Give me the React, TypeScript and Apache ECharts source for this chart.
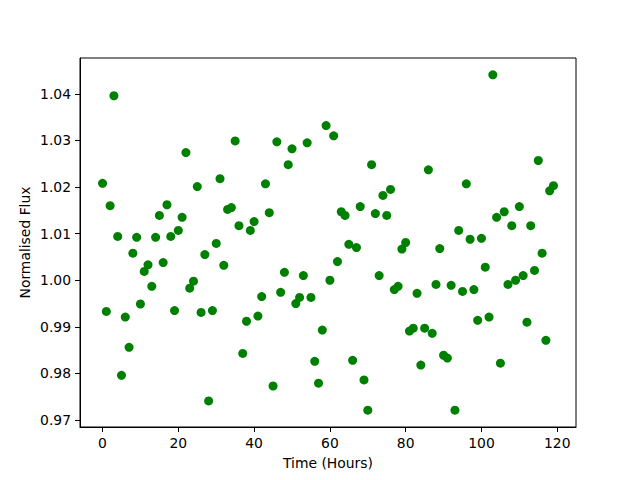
import React, { useEffect, useRef } from "react";
import * as echarts from "echarts";

const hours: number[] = Array.from({ length: 120 }, (_, i) => i);
const flux: number[] = [
  1.0208, 0.9933, 1.0160, 1.0396, 1.0094, 0.9796, 0.9921, 0.9856, 1.0058, 1.0092,
  0.9949, 1.0019, 1.0033, 0.9987, 1.0092, 1.0139, 1.0038, 1.0162, 1.0094, 0.9935,
  1.0107, 1.0135, 1.0274, 0.9983, 0.9998, 1.0201, 0.9931, 1.0055, 0.9741, 0.9935,
  1.0079, 1.0218, 1.0032, 1.0152, 1.0156, 1.0299, 1.0117, 0.9843, 0.9912, 1.0107,
  1.0126, 0.9923, 0.9965, 1.0207, 1.0145, 0.9773, 1.0297, 0.9974, 1.0017, 1.0248,
  1.0282, 0.9950, 0.9963, 1.0010, 1.0295, 0.9963, 0.9826, 0.9779, 0.9893, 1.0332,
  1.0000, 1.0310, 1.0040, 1.0147, 1.0139, 1.0077, 0.9828, 1.0070, 1.0158, 0.9786,
  0.9721, 1.0248, 1.0143, 1.0010, 1.0182, 1.0139, 1.0195, 0.9980, 0.9987, 1.0067,
  1.0081, 0.9891, 0.9897, 0.9972, 0.9818, 0.9897, 1.0237, 0.9886, 0.9991, 1.0068,
  0.9839, 0.9833, 0.9989, 0.9721, 1.0107, 0.9976, 1.0207, 1.0088, 0.9980, 0.9914,
  1.0090, 1.0028, 0.9921, 1.0441, 1.0135, 0.9822, 1.0147, 0.9991, 1.0117, 1.0000,
  1.0158, 1.0010, 0.9910, 1.0117, 1.0021, 1.0257, 1.0058, 0.9871, 1.0192, 1.0203,
];
const xTicks: number[] = [0, 20, 40, 60, 80, 100, 120];
const yTicks: number[] = [0.97, 0.98, 0.99, 1.0, 1.01, 1.02, 1.03, 1.04];

const FONT = "DejaVu Sans";

export default function App() {
  const ref = useRef<HTMLDivElement>(null);
  useEffect(() => {
    if (!ref.current) return;
    const chart = echarts.init(ref.current, undefined, { renderer: "svg" });
    const data = hours.map((h, i) => [h, flux[i]]);
    chart.setOption({
      animation: false,
      backgroundColor: "#ffffff",
      grid: {
        left: 80,
        top: 58,
        width: 496,
        height: 369,
        show: true,
        borderColor: "#000",
        borderWidth: 1,
        backgroundColor: "transparent",
      },
      xAxis: {
        type: "value",
        min: -5.95,
        max: 124.95,
        name: "Time (Hours)",
        nameLocation: "middle",
        nameGap: 29,
        nameMoveOverlap: false,
        nameTextStyle: { fontFamily: FONT, fontSize: 13.9, color: "#000" },
        axisLine: { show: true, onZero: false, lineStyle: { color: "#000", width: 1 } },
        axisTick: { show: true, inside: false, length: 5, customValues: xTicks, lineStyle: { color: "#000" } },
        axisLabel: {
          margin: 9,
          customValues: xTicks,
          fontFamily: FONT,
          fontSize: 13.9,
          color: "#000",
          formatter: (v: number) => String(Math.round(v)),
        },
        splitLine: { show: false },
      },
      yAxis: {
        type: "value",
        min: 0.9685,
        max: 1.0477,
        name: "Normalised Flux",
        nameLocation: "middle",
        nameGap: 48,
        nameMoveOverlap: false,
        nameRotate: 90,
        nameTextStyle: { fontFamily: FONT, fontSize: 13.9, color: "#000" },
        axisLine: { show: true, onZero: false, lineStyle: { color: "#000", width: 1 } },
        axisTick: { show: true, inside: false, length: 5, customValues: yTicks, lineStyle: { color: "#000" } },
        axisLabel: {
          margin: 9,
          customValues: yTicks,
          fontFamily: FONT,
          fontSize: 13.9,
          color: "#000",
          formatter: (v: number) => v.toFixed(2),
        },
        splitLine: { show: false },
      },
      series: [
        {
          type: "scatter",
          data,
          symbol: "circle",
          symbolSize: 9,
          itemStyle: { color: "#008000", opacity: 1 },
        },
      ],
    });
    return () => chart.dispose();
  }, []);
  return (
    <div
      ref={ref}
      style={{ position: "fixed", left: 0, top: 0, width: 640, height: 480 }}
    />
  );
}
